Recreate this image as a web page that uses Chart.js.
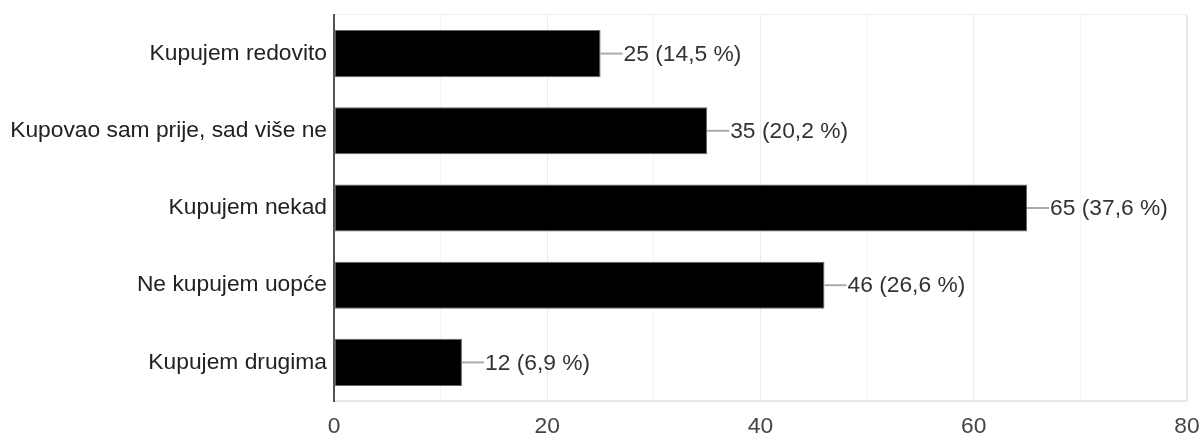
<!DOCTYPE html>
<html>
<head>
<meta charset="utf-8">
<script src="https://cdn.jsdelivr.net/npm/chart.js@4"></script>
<style>
html,body{margin:0;padding:0;background:#fff;}
#wrap{width:1202px;height:437px;}
</style>
</head>
<body>
<div id="wrap"><canvas id="c" width="1202" height="437"></canvas></div>
<script>
const categories = ["Kupujem redovito", "Kupovao sam prije, sad više ne", "Kupujem nekad", "Ne kupujem uopće", "Kupujem drugima"];
const counts = [25, 35, 65, 46, 12];
const percents = ["14,5", "20,2", "37,6", "26,6", "6,9"];
const xTickLabels = ["0", "20", "40", "60", "80"];

const FONT = "'Liberation Sans', Arial, sans-serif";

const labelPlugin = {
  id: 'barLabels',
  afterDatasetsDraw(chart) {
    const ctx = chart.ctx;
    const meta = chart.getDatasetMeta(0);
    ctx.save();
    meta.data.forEach((bar, i) => {
      const x = bar.x, y = bar.y;
      ctx.strokeStyle = '#aaaaaa';
      ctx.lineWidth = 2;
      ctx.beginPath();
      ctx.moveTo(x, y);
      ctx.lineTo(x + 22, y);
      ctx.stroke();
      ctx.fillStyle = '#333333';
      ctx.font = "22.8px " + FONT;
      ctx.textAlign = 'left';
      ctx.textBaseline = 'middle';
      ctx.fillText(counts[i] + " (" + percents[i] + " %)", x + 23, y + 1);
    });
    ctx.restore();
  }
};

new Chart(document.getElementById('c'), {
  type: 'bar',
  data: {
    labels: categories,
    datasets: [{
      data: counts,
      backgroundColor: '#000000',
      borderColor: '#666666',
      borderWidth: 1,
      borderSkipped: false,
      barPercentage: 0.61,
      categoryPercentage: 1.0
    }]
  },
  options: {
    indexAxis: 'y',
    responsive: false,
    animation: false,
    devicePixelRatio: 1,
    layout: { padding: { top: 15, right: 15, left: 0, bottom: 0 } },
    plugins: { legend: { display: false }, tooltip: { enabled: false } },
    scales: {
      x: {
        min: 0, max: 80,
        afterFit(scale) { scale.height = 36; scale.paddingLeft = 0; scale.paddingRight = 0; },
        ticks: {
          stepSize: 10,
          autoSkip: false,
          maxRotation: 0,
          padding: 12,
          color: '#444444',
          font: { family: FONT, size: 22.8 },
          callback(v) { return v % 20 === 0 ? xTickLabels[v / 20] : ''; }
        },
        grid: {
          drawTicks: false,
          color(ctx) {
            const v = ctx.tick ? ctx.tick.value : 0;
            if (v === 80) return '#e6e6e6';
            return v % 20 === 0 ? '#ebebeb' : '#f4f4f4';
          },
          lineWidth(ctx) { return (ctx.tick && ctx.tick.value === 80) ? 2 : 1; }
        },
        border: { display: true, color: '#e8e8e8', width: 2 }
      },
      y: {
        afterFit(scale) { scale.width = 334; scale.paddingTop = 0; scale.paddingBottom = 0; },
        ticks: {
          padding: 7,
          color: '#222222',
          font: { family: FONT, size: 22.8 }
        },
        grid: {
          drawTicks: false,
          color(ctx) { return ctx.index === 0 ? '#f0f0f0' : 'rgba(0,0,0,0)'; }
        },
        border: { display: true, color: '#555555', width: 2 }
      }
    }
  },
  plugins: [labelPlugin]
});
</script>
</body>
</html>
